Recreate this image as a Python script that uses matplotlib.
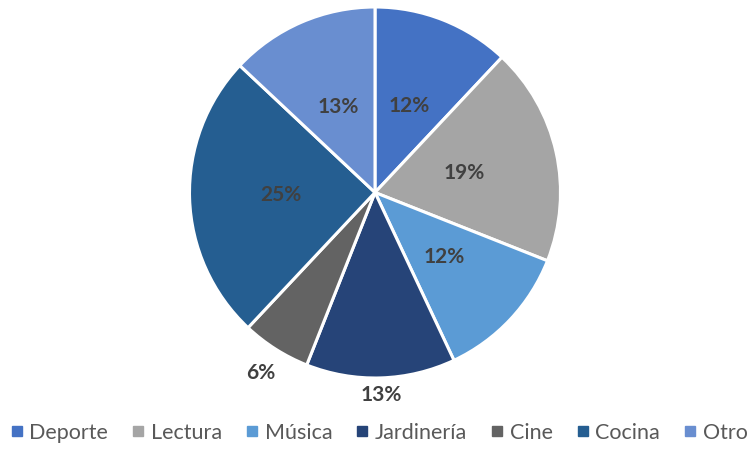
import matplotlib
matplotlib.use("Agg")
import matplotlib.pyplot as plt
from matplotlib.lines import Line2D
import numpy as np

categories = ["Deporte", "Lectura", "Música", "Jardinería", "Cine", "Cocina", "Otro"]
values = [12, 19, 12, 13, 6, 25, 13]
colors = ["#4472C4", "#A5A5A5", "#5B9BD5", "#264478", "#636363", "#255E91", "#698ED0"]
label_dist = [0.50, 0.49, 0.51, 1.09, 1.15, 0.51, 0.50]

plt.rcParams['font.family'] = ['Lato', 'DejaVu Sans']

fig = plt.figure(figsize=(7.52, 4.49), dpi=100)
W, H = 752, 449
cx, cy, R = 375, 192.5, 185.5
ax = fig.add_axes([(cx - R) / W, (H - cy - R) / H, 2 * R / W, 2 * R / H])
wedges, _ = ax.pie(values, colors=colors, startangle=90, counterclock=False,
                   radius=1.0, wedgeprops=dict(edgecolor="white", linewidth=2.2))
ax.set_xlim(-1, 1)
ax.set_ylim(-1, 1)
ax.set_aspect("equal")
ax.axis("off")

total = sum(values)
for w, v, d in zip(wedges, values, label_dist):
    ang = np.deg2rad((w.theta1 + w.theta2) / 2)
    ax.text(d * np.cos(ang), d * np.sin(ang), f"{round(100 * v / total)}%",
            ha="center", va="center", fontsize=15, fontweight="bold", color="#404040")

handles = [Line2D([0], [0], marker="s", linestyle="", markersize=7,
                  markerfacecolor=c, markeredgecolor=c) for c in colors]
fig.legend(handles, categories, loc="center", bbox_to_anchor=(379 / W, 1 - 433 / H),
           ncol=7, frameon=False, fontsize=15.5, labelcolor="#595959",
           handlelength=0.6, handletextpad=0.28, columnspacing=1.1,
           borderpad=0, borderaxespad=0)

fig.savefig("out.png", dpi=100)
